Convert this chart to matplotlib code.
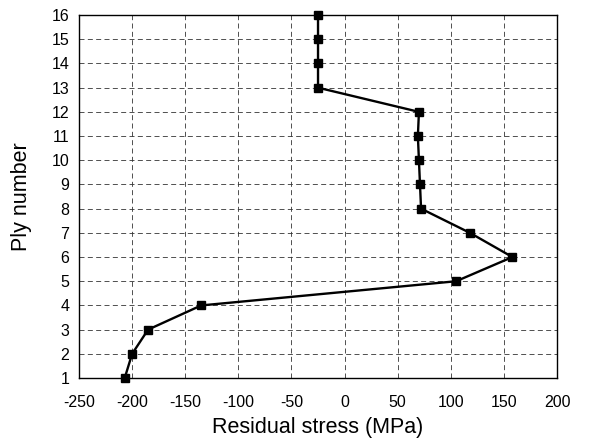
import matplotlib.pyplot as plt

# residual stress through the laminate thickness
ply = [1, 2, 3, 4, 5, 6, 7, 8, 9, 10, 11, 12, 13, 14, 15, 16]
stress = [-207, -200, -185, -135, 105, 158, 118, 72, 71, 70, 69, 70, -25, -25, -25, -25]

plt.rcParams['font.family'] = ['Liberation Sans', 'DejaVu Sans']
plt.rcParams['axes.unicode_minus'] = False

fig = plt.figure(figsize=(5.96, 4.44), dpi=100)
ax = fig.add_axes([0.1326, 0.1486, 0.802, 0.8174])

ax.plot(stress, ply, color='black', linewidth=1.7, marker='s', markersize=6, clip_on=False)

ax.set_xlim(-250, 200)
ax.set_ylim(1, 16)
ax.set_xticks(range(-250, 201, 50))
ax.set_yticks(range(1, 17))
ax.grid(True, linestyle=(0, (6, 4)), color='#333333', linewidth=0.6)
ax.tick_params(length=0, labelsize=11.5)
ax.tick_params(axis='x', pad=12)
ax.tick_params(axis='y', pad=7)
for s in ax.spines.values():
    s.set_linewidth(1.0)

ax.set_xlabel("Residual stress (MPa)", fontsize=15.5, labelpad=5)
ax.set_ylabel("Ply number", fontsize=15.5, labelpad=14)

fig.savefig("out.png", dpi=100)
